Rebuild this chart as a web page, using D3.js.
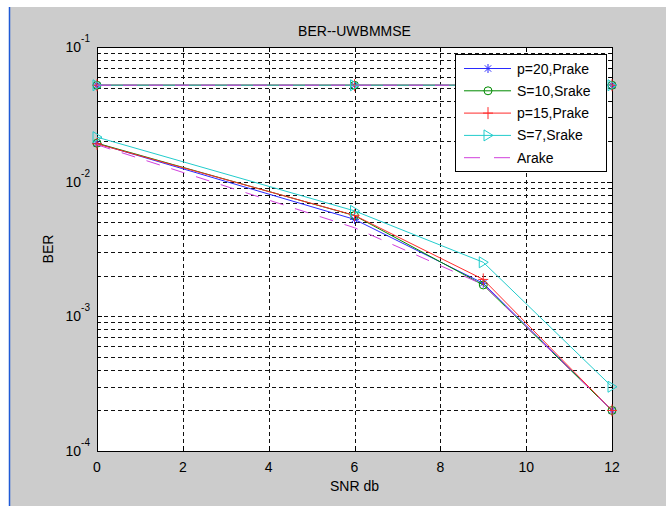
<!DOCTYPE html>
<html>
<head>
<meta charset="utf-8">
<script src="https://cdn.jsdelivr.net/npm/d3@7"></script>
<style>
  html, body { margin: 0; padding: 0; background: #fff; }
  text { font-family: "Liberation Sans", Arial, sans-serif; fill: #000; }
</style>
</head>
<body>
<svg id="chart" width="666" height="506"></svg>
<script>

// snr points of the lower curves and of the flat upper curves
var snrLow = [0, 6, 9, 12];
var snrUp  = [0, 6, 12];

var names = ["p=20,Prake", "S=10,Srake", "p=15,Prake", "S=7,Srake", "Arake"];

// BER
var prake20Low = [0.0192, 0.00525, 0.00176, 0.0002];
var srake10Low = [0.0193, 0.0056, 0.00171, 0.0002];
var prake15Low = [0.0191, 0.00562, 0.00188, 0.0002];
var srake7Low  = [0.0214, 0.00607, 0.00252, 0.0003];
var arakeLow   = [0.0188, 0.00455, 0.00172, 0.0002];

var prake20Up = [0.052, 0.052, 0.052];
var srake10Up = [0.052, 0.052, 0.052];
var prake15Up = [0.052, 0.052, 0.052];
var srake7Up  = [0.052, 0.052, 0.052];
var arakeUp   = [0.052, 0.052, 0.052];

var xTicks = [0, 2, 4, 6, 8, 10, 12];
var yDecades = [-4, -3, -2, -1];

var chart = {};

function setup(){

    chart.margin = {left: 97, top: 47, right: 612, bottom: 451};

    chart.svg = d3.select("#chart");

    // figure background (gray window with a blue edge)
    chart.svg.append("rect")
         .attr("x", 10).attr("y", 7)
         .attr("width", 656).attr("height", 499)
         .attr("fill", "#cccccc");
    chart.svg.append("line")
         .attr("x1", 9.5).attr("x2", 9.5)
         .attr("y1", 7).attr("y2", 506)
         .attr("stroke", "#1f5ad6")
         .attr("stroke-width", 1.5);

    chart.x = d3.scaleLinear()
                .domain([0, 12])
                .range([chart.margin.left, chart.margin.right]);
    chart.y = d3.scaleLog()
                .domain([1e-4, 1e-1])
                .range([chart.margin.bottom, chart.margin.top]);

    draw_axes();
    draw_series();
    draw_legend();
}


function draw_axes(){
    var x = chart.x, y = chart.y, m = chart.margin;

    chart.svg.append("rect")
         .attr("x", m.left).attr("y", m.top)
         .attr("width", m.right - m.left)
         .attr("height", m.bottom - m.top)
         .attr("fill", "#fff");

    // log grid: every 1..9 in each decade
    var yGrid = [];
    yDecades.slice(0, 3).forEach(p => {
        d3.range(1, 10).forEach(k => yGrid.push(k * Math.pow(10, p)));
    });
    yGrid = yGrid.filter(v => v > 1e-4);

    var grid = chart.svg.append("g")
                    .attr("stroke", "#111")
                    .attr("stroke-width", 1)
                    .attr("stroke-dasharray", "4,3")
                    .attr("shape-rendering", "crispEdges");

    grid.selectAll(".hgrid")
        .data(yGrid)
        .join("line")
        .attr("x1", m.left).attr("x2", m.right)
        .attr("y1", d => Math.round(y(d)) + 0.5)
        .attr("y2", d => Math.round(y(d)) + 0.5);

    grid.selectAll(".vgrid")
        .data(xTicks.slice(1, -1))
        .join("line")
        .attr("y1", m.top).attr("y2", m.bottom)
        .attr("x1", d => Math.round(x(d)) + 0.5)
        .attr("x2", d => Math.round(x(d)) + 0.5);

    var axis = chart.svg.append("g")
                    .attr("stroke", "#000")
                    .attr("shape-rendering", "crispEdges");

    // x ticks, inside, bottom and top
    axis.selectAll(".xt")
        .data(xTicks)
        .join("path")
        .attr("d", d => {
            var px = Math.round(x(d)) + 0.5;
            return `M${px},${m.bottom}v-5M${px},${m.top}v5`;
        });

    // y ticks, major and minor, left and right
    var yMinor = [];
    yDecades.slice(0, 3).forEach(p => {
        d3.range(2, 10).forEach(k => yMinor.push(k * Math.pow(10, p)));
    });
    axis.selectAll(".ytmaj")
        .data(yDecades.map(p => Math.pow(10, p)))
        .join("path")
        .attr("d", d => {
            var py = Math.round(y(d)) + 0.5;
            return `M${m.left},${py}h5M${m.right},${py}h-5`;
        });
    axis.selectAll(".ytmin")
        .data(yMinor)
        .join("path")
        .attr("d", d => {
            var py = Math.round(y(d)) + 0.5;
            return `M${m.left},${py}h3M${m.right},${py}h-3`;
        });

    chart.svg.append("rect")
         .attr("x", m.left + 0.5).attr("y", m.top + 0.5)
         .attr("width", m.right - m.left)
         .attr("height", m.bottom - m.top)
         .attr("fill", "none")
         .attr("stroke", "#000")
         .attr("shape-rendering", "crispEdges");

    // tick labels
    chart.svg.selectAll(".xlab")
         .data(xTicks)
         .join("text")
         .attr("x", d => x(d))
         .attr("y", m.bottom + 21)
         .attr("text-anchor", "middle")
         .attr("font-size", 14)
         .text(d => d);

    var ylab = chart.svg.selectAll(".ylab")
                    .data(yDecades)
                    .join("text")
                    .attr("x", 90)
                    .attr("y", d => y(Math.pow(10, d)) + 5)
                    .attr("text-anchor", "end")
                    .attr("font-size", 14);
    ylab.append("tspan").text("10");
    ylab.append("tspan")
        .attr("dy", -10)
        .attr("font-size", 10)
        .text(d => d);

    chart.svg.append("text")
         .attr("x", (m.left + m.right) / 2)
         .attr("y", 36)
         .attr("text-anchor", "middle")
         .attr("font-size", 14)
         .text("BER--UWBMMSE");

    chart.svg.append("text")
         .attr("x", (m.left + m.right) / 2)
         .attr("y", m.bottom + 40)
         .attr("text-anchor", "middle")
         .attr("font-size", 14)
         .text("SNR db");

    chart.svg.append("text")
         .attr("transform", `translate(53,${(m.top + m.bottom) / 2}) rotate(-90)`)
         .attr("text-anchor", "middle")
         .attr("font-size", 14)
         .text("BER");
}


function marker(g, type, color){
    var s = g.append("path")
             .attr("fill", "none")
             .attr("stroke", color)
             .attr("stroke-width", 1);
    if (type == "star")
        s.attr("d", "M-4.5,0h9M0,-4.5v9M-3.2,-3.2l6.4,6.4M-3.2,3.2l6.4,-6.4");
    else if (type == "circle")
        s.attr("d", d3.symbol().type(d3.symbolCircle).size(50)());
    else if (type == "plus")
        s.attr("d", "M-5,0h10M0,-6v12");
    else if (type == "tri")
        s.attr("d", "M-4,-5.5L5,0L-4,5.5Z");
}


function draw_series(){
    var x = chart.x, y = chart.y;

    chart.series = [
        {name: names[0], up: prake20Up, low: prake20Low, color: "#2a2aff", mark: "star", dash: null},
        {name: names[1], up: srake10Up, low: srake10Low, color: "#008a00", mark: "circle", dash: null},
        {name: names[2], up: prake15Up, low: prake15Low, color: "#ff2a2a", mark: "plus", dash: null},
        {name: names[3], up: srake7Up,  low: srake7Low,  color: "#22cccc", mark: "tri", dash: null},
        {name: names[4], up: arakeUp,   low: arakeLow,   color: "#d040dc", mark: null, dash: "14,12"}
    ];

    var line = d3.line().x(d => x(d[0])).y(d => y(d[1]));

    chart.series.forEach(s => {
        var g = chart.svg.append("g");
        [d3.zip(snrUp, s.up), d3.zip(snrLow, s.low)].forEach(pts => {
            g.append("path")
             .attr("d", line(pts))
             .attr("fill", "none")
             .attr("stroke", s.color)
             .attr("stroke-width", 1)
             .attr("stroke-dasharray", s.dash);
            if (s.mark)
                pts.forEach(p => {
                    var mg = g.append("g")
                              .attr("transform", `translate(${x(p[0])},${y(p[1])})`);
                    marker(mg, s.mark, s.color);
                });
        });
    });
}


function draw_legend(){
    var box = {x: 455, y: 54, w: 151, h: 117};

    var lg = chart.svg.append("g");
    lg.append("rect")
      .attr("x", box.x + 0.5).attr("y", box.y + 0.5)
      .attr("width", box.w).attr("height", box.h)
      .attr("fill", "#fff")
      .attr("stroke", "#000")
      .attr("shape-rendering", "crispEdges");

    chart.series.forEach((s, i) => {
        var cy = box.y + 14.5 + i * 22.3;
        lg.append("line")
          .attr("x1", box.x + 9).attr("x2", box.x + 56)
          .attr("y1", cy).attr("y2", cy)
          .attr("stroke", s.color)
          .attr("stroke-dasharray", s.dash ? "16,14" : null);
        if (s.mark)
            marker(lg.append("g").attr("transform", `translate(${box.x + 33},${cy})`), s.mark, s.color);
        lg.append("text")
          .attr("x", box.x + 62)
          .attr("y", cy + 5)
          .attr("font-size", 14)
          .text(s.name);
    });
}


window.addEventListener("load", setup);
</script>
</body>
</html>
